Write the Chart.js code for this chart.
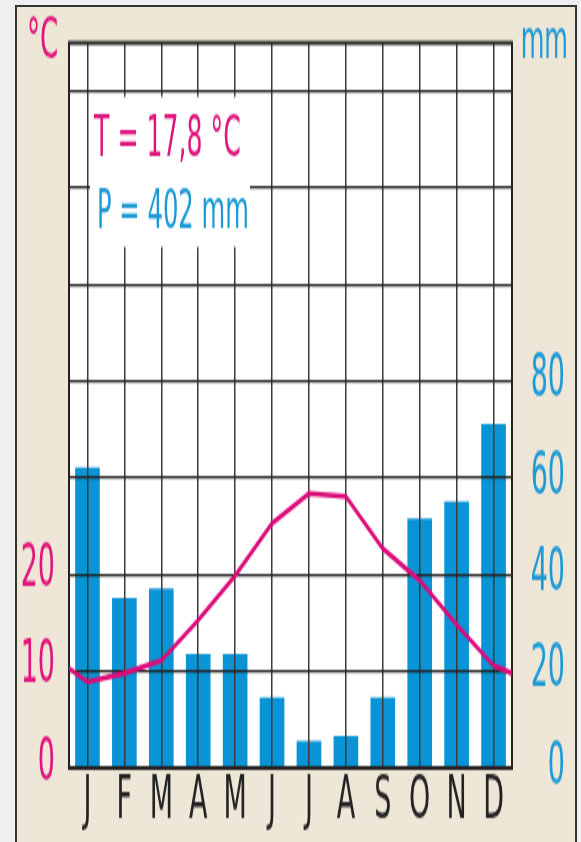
<!DOCTYPE html>
<html>
<head>
<meta charset="utf-8">
<script src="https://cdn.jsdelivr.net/npm/chart.js@4.4.1/dist/chart.umd.min.js"></script>
<style>
  html, body { margin: 0; padding: 0; width: 581px; height: 842px; overflow: hidden; background: #efefef; }
  #frame { position: absolute; left: 15px; top: 5px; width: 558px; height: 900px; background: #eee6d6; border: 2px solid #333; }
  #chart { position: absolute; left: 0; top: 0; }
</style>
</head>
<body>
<div id="frame"></div>
<!-- drawn at half height, then stretched like the printed diagram -->
<canvas id="chart" width="581" height="421" style="width:581px;height:842px;"></canvas>
<script>
const months = ['J', 'F', 'M', 'A', 'M', 'J', 'J', 'A', 'S', 'O', 'N', 'D'];
const precip = [62, 35, 37, 23.5, 23.5, 14.5, 5.5, 6.5, 14.5, 51.5, 55, 71];   // mm
const temp = [8.9, 9.8, 11.1, 15.3, 19.9, 25.3, 28.4, 28.1, 22.7, 19.4, 14.8, 10.6]; // °C
const tempEdges = [10.3, 9.8]; // where the curve leaves the plot on the left / right
const tempGrid = [0, 10, 20, 30, 40, 50, 60, 70];
const tempLabels = [0, 10, 20];
const precipLabels = [0, 20, 40, 60, 80];

const MAGENTA = '#e0147c';
const BLUE = '#1d9ad6';
const FONT = '"Liberation Sans Narrow", "DejaVu Sans Condensed", "Liberation Sans", sans-serif';

const linePoints = [{ x: -0.5, y: tempEdges[0] }]
  .concat(temp.map((t, i) => ({ x: i, y: t })))
  .concat([{ x: 11.5, y: tempEdges[1] }]);

// plot background, frame, note box, and the temperature curve on top of the grid
const diagramPlugin = {
  id: 'diagram',
  beforeDraw(chart) {
    const { ctx, chartArea: a } = chart;
    ctx.save();
    ctx.fillStyle = '#fff';
    ctx.fillRect(a.left, a.top, a.right - a.left, a.bottom - a.top);
    ctx.restore();
  },
  beforeDatasetDraw(chart, args) {
    if (args.index === 1) return false;
  },
  afterDraw(chart) {
    const { ctx, chartArea: a } = chart;
    ctx.save();
    ctx.strokeStyle = '#222';
    ctx.lineWidth = 2;
    ctx.strokeRect(a.left, a.top, a.right - a.left, a.bottom - a.top);

    // note box
    ctx.fillStyle = '#fff';
    ctx.fillRect(a.left + 21, a.top + 27, 160, 75);
    ctx.textBaseline = 'alphabetic';
    ctx.textAlign = 'left';
    ctx.font = '28px ' + FONT;
    ctx.fillStyle = MAGENTA;
    ctx.fillText('T = 17,8 °C', a.left + 25, a.top + 56);
    ctx.font = '27px ' + FONT;
    ctx.fillStyle = BLUE;
    ctx.fillText('P = 402 mm', a.left + 28, a.top + 92.5);

    // units
    ctx.font = '29px ' + FONT;
    ctx.fillStyle = MAGENTA;
    ctx.fillText('°C', 27, 28.5);
    ctx.font = '27px ' + FONT;
    ctx.fillStyle = BLUE;
    ctx.textAlign = 'right';
    ctx.fillText('mm', 568, 28.5);

    // temperature line
    ctx.beginPath();
    ctx.rect(a.left, a.top, a.right - a.left, a.bottom - a.top);
    ctx.clip();
    chart.getDatasetMeta(1).controller.draw();
    ctx.restore();
  }
};

const noPad = s => { s.paddingTop = 0; s.paddingBottom = 0; s.paddingLeft = 0; s.paddingRight = 0; };

new Chart(document.getElementById('chart'), {
  type: 'bar',
  data: {
    datasets: [
      {
        type: 'bar',
        data: precip.map((v, i) => ({ x: i, y: v })),
        yAxisID: 'y1',
        backgroundColor: '#0b94d5',
        barThickness: 24,
        borderWidth: 0
      },
      {
        type: 'line',
        data: linePoints,
        yAxisID: 'y',
        borderColor: '#dc0b79',
        borderWidth: 2.6,
        pointRadius: 0,
        tension: 0,
        fill: false
      }
    ]
  },
  options: {
    responsive: false,
    devicePixelRatio: 1,
    animation: false,
    layout: { padding: { top: 21.5, right: 16, left: 0, bottom: 0 }, autoPadding: false },
    plugins: { legend: { display: false }, tooltip: { enabled: false } },
    scales: {
      x: {
        type: 'linear',
        min: -0.5,
        max: 11.5,
        offset: false,
        afterBuildTicks: s => { s.ticks = months.map((m, i) => ({ value: i })); },
        afterFit: s => { s.height = 37; noPad(s); },
        ticks: {
          autoSkip: false, maxRotation: 0, padding: -1,
          color: '#222', font: { family: FONT, size: 30 },
          callback: v => months[v]
        },
        grid: { color: '#3a3a3a', lineWidth: 1.5, drawTicks: false, offset: false, z: 1 },
        border: { display: false }
      },
      y: {
        position: 'left',
        min: 0,
        max: 75,
        afterBuildTicks: s => { s.ticks = tempGrid.map(v => ({ value: v })); },
        afterFit: s => { s.width = 69; noPad(s); },
        ticks: {
          padding: 14, labelOffset: -2,
          color: MAGENTA, font: { family: FONT, size: 30 },
          callback: v => tempLabels.includes(v) ? v : ''
        },
        grid: { color: '#222', lineWidth: 1.25, drawTicks: false, z: 1 },
        border: { display: false }
      },
      y1: {
        position: 'right',
        min: 0,
        max: 150,
        afterBuildTicks: s => { s.ticks = precipLabels.map(v => ({ value: v })); },
        afterFit: s => { s.width = 53; noPad(s); },
        ticks: {
          crossAlign: 'far', padding: 0,
          color: BLUE, font: { family: FONT, size: 30 }
        },
        grid: { display: false },
        border: { display: false }
      }
    }
  },
  plugins: [diagramPlugin]
});
</script>
</body>
</html>
